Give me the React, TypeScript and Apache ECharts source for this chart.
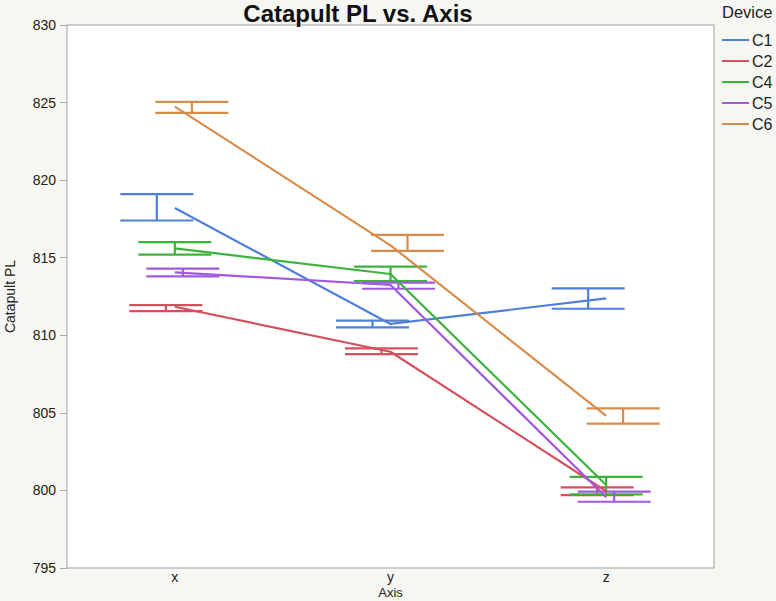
import React, { useEffect, useRef } from "react";
import * as echarts from "echarts";

const categories = ["x", "y", "z"];
const devices = ["C1", "C2", "C4", "C5", "C6"];
const colors = ["#4f80d8", "#d4505f", "#3bb33b", "#a05ae0", "#d88c4a"];

// mean values per device at x, y, z
const meanC1 = [818.2, 810.73, 812.38];
const meanC2 = [811.84, 808.94, 799.95];
const meanC4 = [815.6, 813.95, 800.35];
const meanC5 = [814.06, 813.24, 799.56];
const meanC6 = [824.74, 815.8, 804.8];

// error bar upper / lower per device at x, y, z
const upperC1 = [819.1, 810.94, 813.03];
const lowerC1 = [817.4, 810.51, 811.71];
const upperC2 = [811.95, 809.16, 800.2];
const lowerC2 = [811.56, 808.79, 799.7];
const upperC4 = [816.0, 814.42, 800.87];
const lowerC4 = [815.2, 813.5, 799.75];
const upperC5 = [814.3, 813.39, 799.92];
const lowerC5 = [813.8, 813.0, 799.27];
const upperC6 = [825.04, 816.47, 805.29];
const lowerC6 = [824.33, 815.44, 804.3];

const yTicks = [795, 800, 805, 810, 815, 820, 825, 830];

const means = [meanC1, meanC2, meanC4, meanC5, meanC6];
const uppers = [upperC1, upperC2, upperC4, upperC5, upperC6];
const lowers = [lowerC1, lowerC2, lowerC4, lowerC5, lowerC6];

// horizontal pixel offset of each device's error bar, and cap half width
const barOffsets = [-18, -9, 0, 8, 17];
const capHalf = 36.5;

const FONT = "'Liberation Sans', Arial, Helvetica, sans-serif";

export default function App() {
  const ref = useRef<HTMLDivElement>(null);

  useEffect(() => {
    if (!ref.current) return;
    const chart = echarts.init(ref.current, undefined, { renderer: "svg" });

    const lineSeries: any[] = devices.map((d, i) => ({
      name: d,
      type: "line",
      data: means[i],
      symbol: "none",
      color: colors[i],
      lineStyle: { color: colors[i], width: 2.2 },
      itemStyle: { color: colors[i] },
      z: 3,
    }));

    const errSeries: any[] = devices.map((d, i) => ({
      name: d,
      type: "custom",
      color: colors[i],
      itemStyle: { color: colors[i] },
      data: categories.map((_, c) => [c, lowers[i][c], uppers[i][c]]),
      encode: { x: 0, y: [1, 2] },
      z: 2,
      renderItem: (params: any, api: any) => {
        const c = api.value(0);
        const lo = api.coord([c, api.value(1)]);
        const hi = api.coord([c, api.value(2)]);
        const x = lo[0] + barOffsets[i];
        const style = { stroke: colors[i], lineWidth: 2.2, fill: "none" };
        return {
          type: "group",
          children: [
            { type: "line", shape: { x1: x, y1: lo[1], x2: x, y2: hi[1] }, style },
            { type: "line", shape: { x1: x - capHalf, y1: lo[1], x2: x + capHalf, y2: lo[1] }, style },
            { type: "line", shape: { x1: x - capHalf, y1: hi[1], x2: x + capHalf, y2: hi[1] }, style },
          ],
        };
      },
    }));

    chart.setOption({
      animation: false,
      backgroundColor: "#f6f6f3",
      textStyle: { fontFamily: FONT },
      title: {
        text: "Catapult PL vs. Axis",
        left: 353,
        textAlign: "center",
        top: -4,
        textStyle: { fontSize: 24, fontWeight: "bold", color: "#111", fontFamily: FONT },
      },
      graphic: [
        {
          type: "text",
          left: 722,
          top: 3,
          style: { text: "Device", fontSize: 16.5, fill: "#222", fontFamily: FONT },
        },
      ],
      legend: {
        data: devices,
        orient: "vertical",
        left: 722,
        top: 32,
        padding: 0,
        icon: "rect",
        itemWidth: 27,
        itemHeight: 2,
        itemGap: 5,
        textStyle: { fontSize: 16, color: "#222", fontFamily: FONT, padding: [0, 0, 0, -2] },
        selectedMode: false,
      },
      grid: {
        left: 67,
        right: 62,
        top: 25,
        bottom: 33,
        show: true,
        outerBoundsMode: "none",
        containLabel: false,
        backgroundColor: "#ffffff",
        borderColor: "#bdbdbd",
        borderWidth: 1.5,
      },
      xAxis: {
        type: "category",
        data: categories,
        boundaryGap: true,
        name: "Axis",
        nameLocation: "middle",
        nameGap: 18,
        nameMoveOverlap: false,
        nameTextStyle: { fontSize: 13, color: "#222", verticalAlign: "top" },
        axisLine: { show: false },
        axisTick: { show: false },
        axisLabel: { fontSize: 14, color: "#222", margin: 2 },
        splitLine: { show: false },
      },
      yAxis: {
        type: "value",
        min: yTicks[0],
        max: yTicks[yTicks.length - 1],
        interval: 5,
        name: "Catapult PL",
        nameLocation: "middle",
        nameGap: 50,
        nameMoveOverlap: false,
        nameTextStyle: { fontSize: 14, color: "#222" },
        axisLine: { show: false },
        axisTick: { show: true, length: 7, lineStyle: { color: "#aaa" } },
        axisLabel: { fontSize: 14, color: "#222", margin: 11 },
        splitLine: { show: false },
      },
      series: [...lineSeries, ...errSeries],
    });

    return () => chart.dispose();
  }, []);

  return (
    <div
      ref={ref}
      style={{ position: "absolute", left: 0, top: 0, width: 776, height: 601 }}
    />
  );
}
